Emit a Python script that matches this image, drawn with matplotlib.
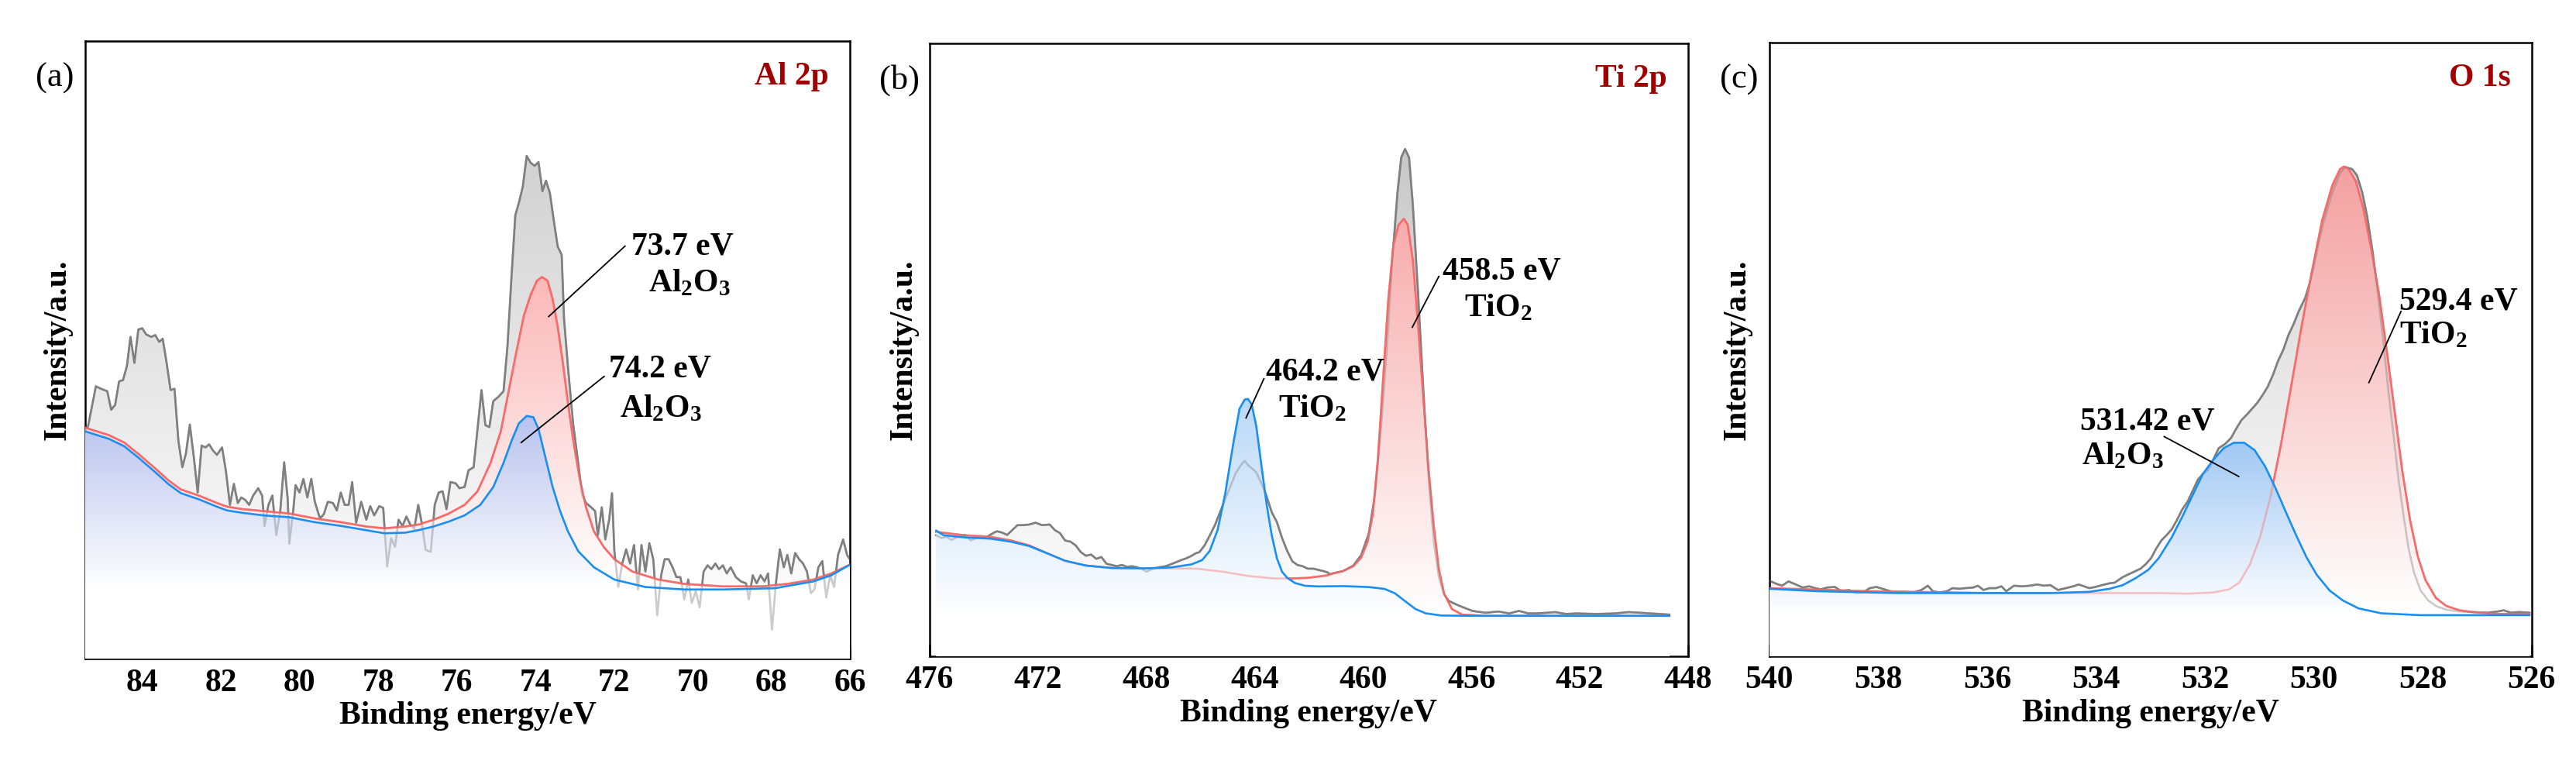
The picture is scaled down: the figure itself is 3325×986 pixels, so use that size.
import numpy as np
import matplotlib
matplotlib.use("Agg")
from matplotlib import pyplot as plt
from matplotlib import colors as mcolors
from matplotlib.ticker import MultipleLocator

plt.rcParams['font.family'] = ['Liberation Serif', 'DejaVu Serif']
plt.rcParams['mathtext.fontset'] = 'custom'
plt.rcParams['mathtext.rm'] = 'Liberation Serif:bold'
plt.rcParams['mathtext.it'] = 'Liberation Serif:bold:italic'
plt.rcParams['mathtext.bf'] = 'Liberation Serif:bold'

# ---------------- (a) Al 2p ----------------
a_raw_ev = [85.45, 85.38, 85.18, 85.05, 84.89, 84.79, 84.69, 84.59, 84.49, 84.39, 84.30, 84.20, 84.10,
            84.00, 83.90, 83.77, 83.67, 83.57, 83.48, 83.38, 83.28, 83.18, 83.08, 82.98, 82.89, 82.79,
            82.69, 82.59, 82.49, 82.39, 82.30, 82.20, 82.10, 81.97, 81.87, 81.77, 81.67, 81.57, 81.48,
            81.38, 81.28, 81.18, 81.05, 80.95, 80.89, 80.79, 80.69, 80.59, 80.49, 80.39, 80.30, 80.26,
            80.16, 80.10, 80.00, 79.90, 79.80, 79.70, 79.61, 79.48, 79.38, 79.28, 79.15, 79.05, 78.95,
            78.85, 78.75, 78.66, 78.56, 78.43, 78.30, 78.20, 78.10, 77.97, 77.87, 77.77, 77.67, 77.57,
            77.48, 77.38, 77.28, 77.18, 77.08, 76.98, 76.89, 76.79, 76.66, 76.56, 76.46, 76.36, 76.26,
            76.16, 76.03, 75.93, 75.80, 75.70, 75.57, 75.47, 75.37, 75.27, 75.17, 75.07, 74.94, 74.81,
            74.71, 74.61, 74.51, 74.42, 74.32, 74.22, 74.12, 74.02, 73.92, 73.82, 73.73, 73.63, 73.53,
            73.43, 73.33, 73.27, 73.17, 73.04, 72.91, 72.81, 72.71, 72.58, 72.48, 72.41, 72.31, 72.22,
            72.12, 72.05, 71.99, 71.89, 71.79, 71.69, 71.59, 71.49, 71.39, 71.30, 71.20, 71.10, 71.00,
            70.90, 70.80, 70.71, 70.61, 70.51, 70.41, 70.31, 70.21, 70.11, 70.02, 69.92, 69.82, 69.72,
            69.62, 69.52, 69.42, 69.33, 69.23, 69.13, 69.03, 68.90, 68.77, 68.64, 68.57, 68.47, 68.37,
            68.27, 68.17, 68.08, 67.98, 67.88, 67.78, 67.68, 67.59, 67.49, 67.39, 67.29, 67.19, 67.09,
            66.99, 66.90, 66.80, 66.70, 66.60, 66.50, 66.40, 66.30, 66.17, 66.07, 66.00]
a_raw_int = [37.0, 37.6, 44.1, 43.7, 43.3, 40.3, 41.1, 44.9, 45.1, 47.4, 52.1, 47.9, 53.3,
             53.5, 52.5, 52.1, 52.4, 51.3, 51.8, 47.9, 43.5, 43.7, 35.2, 31.0, 33.2, 37.9,
             32.7, 26.9, 34.5, 34.2, 34.7, 33.7, 33.0, 34.2, 30.3, 24.9, 28.3, 25.2, 26.1,
             25.7, 24.9, 26.4, 27.6, 26.4, 21.5, 24.9, 26.4, 20.0, 23.9, 31.8, 25.9, 18.6,
             23.9, 28.1, 26.9, 29.1, 26.1, 29.1, 25.4, 22.7, 23.4, 25.4, 25.2, 24.0, 26.9,
             24.9, 24.9, 28.6, 22.0, 25.4, 22.5, 24.7, 23.2, 24.7, 24.4, 14.9, 19.5, 18.1,
             22.5, 21.5, 23.0, 21.7, 21.0, 24.9, 22.0, 17.6, 17.3, 24.9, 26.9, 27.1, 24.2,
             28.6, 28.4, 27.6, 27.8, 30.5, 31.0, 37.2, 43.5, 37.8, 37.5, 41.7, 42.4, 43.3,
             50.5, 61.5, 71.8, 73.8, 76.4, 81.4, 80.3, 79.8, 80.4, 75.7, 77.4, 75.4, 70.9,
             66.7, 65.4, 55.0, 47.2, 38.1, 31.7, 26.5, 25.2, 24.5, 23.9, 20.0, 24.5, 19.3,
             22.6, 26.8, 17.4, 11.6, 15.4, 17.7, 15.4, 18.4, 11.2, 18.4, 14.1, 18.7, 16.1,
             7.0, 13.5, 16.1, 16.1, 14.8, 13.2, 13.2, 9.6, 12.8, 9.0, 10.9, 8.3, 14.1,
             15.1, 14.5, 15.4, 14.5, 15.1, 13.8, 14.8, 13.2, 12.5, 12.2, 9.6, 13.5, 12.2,
             13.5, 12.5, 13.8, 4.7, 12.2, 17.7, 14.8, 16.8, 13.8, 17.1, 16.1, 15.4, 14.1,
             10.6, 11.2, 14.8, 15.8, 9.9, 13.5, 11.6, 16.8, 19.3, 16.8, 16.1]
a_red_ev = [85.45, 84.85, 84.46, 84.07, 83.67, 83.34, 83.02, 82.56, 82.10, 81.84, 81.44, 80.92, 80.26,
            79.61, 78.95, 78.30, 77.84, 77.31, 76.98, 76.59, 76.20, 75.80, 75.47, 75.14, 74.88, 74.68,
            74.48, 74.29, 74.12, 73.96, 73.83, 73.69, 73.56, 73.43, 73.30, 73.17, 73.04, 72.87, 72.71,
            72.51, 72.25, 71.99, 71.53, 70.87, 70.21, 69.23, 68.24, 67.59, 66.93, 66.47, 66.00]
a_red_int = [37.4, 36.2, 35.0, 33.0, 30.8, 28.9, 27.4, 26.4, 25.2, 24.6, 24.2, 23.9, 23.5,
             22.7, 22.1, 21.4, 21.1, 21.4, 21.7, 22.5, 23.5, 24.9, 27.1, 31.7, 36.8, 43.3,
             49.8, 55.6, 58.9, 61.2, 61.8, 61.2, 58.2, 53.7, 47.9, 41.4, 35.5, 29.1, 24.5,
             20.6, 18.0, 16.1, 14.1, 12.8, 12.1, 11.7, 11.7, 12.1, 12.8, 13.8, 15.2]
a_blue_ev = [85.45, 84.85, 84.46, 84.07, 83.67, 83.34, 83.02, 82.56, 82.10, 81.84, 81.44, 80.92, 80.26,
             79.61, 78.95, 78.30, 77.84, 77.31, 76.98, 76.59, 76.20, 75.80, 75.40, 75.07, 74.81, 74.61,
             74.42, 74.22, 74.05, 73.92, 73.76, 73.56, 73.37, 73.17, 72.91, 72.51, 71.99, 71.20, 70.21,
             69.23, 67.91, 66.93, 66.47, 66.00]
a_blue_int = [36.8, 35.6, 34.4, 32.4, 30.2, 28.3, 26.8, 25.8, 24.6, 24.0, 23.6, 23.2, 22.9,
              22.1, 21.5, 20.8, 20.3, 20.4, 20.8, 21.4, 22.2, 23.2, 24.9, 27.8, 31.7, 35.2,
              38.1, 39.3, 39.1, 37.2, 33.0, 27.8, 23.9, 20.6, 17.4, 14.8, 12.8, 11.6, 11.2,
              11.2, 11.4, 12.5, 13.5, 15.2]

# ---------------- (b) Ti 2p ----------------
b_raw_ev = [475.76, 475.57, 475.38, 475.19, 475.00, 474.71, 474.48, 474.24, 473.95, 473.66, 473.52,
            473.33, 473.14, 472.95, 472.76, 472.57, 472.33, 472.09, 471.85, 471.57, 471.38, 471.19,
            471.00, 470.80, 470.61, 470.42, 470.23, 470.04, 469.85, 469.66, 469.47, 469.28, 469.09,
            468.90, 468.71, 468.52, 468.33, 468.14, 468.00, 467.80, 467.56, 467.28, 466.99, 466.71,
            466.52, 466.33, 466.18, 466.04, 465.85, 465.66, 465.47, 465.28, 465.09, 464.89, 464.70,
            464.51, 464.37, 464.23, 464.08, 463.94, 463.75, 463.56, 463.37, 463.18, 462.99, 462.80,
            462.61, 462.42, 462.23, 462.04, 461.84, 461.65, 461.46, 461.32, 461.22, 460.74, 460.36,
            460.07, 459.79, 459.55, 459.31, 459.12, 458.92, 458.73, 458.59, 458.45, 458.30, 458.16,
            457.97, 457.78, 457.59, 457.39, 457.20, 457.01, 456.82, 456.53, 456.25, 455.96, 455.48,
            455.00, 454.60, 454.24, 453.90, 453.57, 452.90, 452.50, 452.13, 451.37, 450.70, 450.20,
            449.74, 448.69]
b_raw_int = [19.75, 19.3, 19.5, 19.0, 19.4, 19.8, 18.9, 19.4, 19.3, 20.1, 20.4,
             20.2, 19.8, 20.6, 21.4, 21.4, 21.5, 21.8, 21.4, 21.5, 20.6, 20.1,
             18.9, 18.7, 18.1, 17.0, 16.4, 16.6, 15.9, 16.2, 15.1, 14.9, 14.7,
             14.9, 14.6, 14.7, 14.5, 14.2, 13.8, 14.2, 14.5, 14.7, 15.2, 15.7,
             16.0, 16.4, 16.8, 17.0, 18.1, 19.7, 21.4, 23.5, 25.6, 27.8, 29.9,
             31.2, 31.9, 31.1, 30.6, 30.0, 28.2, 26.1, 23.5, 21.9, 19.3, 17.2,
             15.5, 14.9, 14.7, 14.3, 14.3, 14.1, 13.9, 13.7, 13.4, 13.9, 14.8,
             16.5, 20.0, 26.5, 38.7, 50.4, 64.6, 75.6, 81.4, 82.8, 81.4, 73.6,
             59.4, 43.9, 29.7, 18.7, 12.9, 10.0, 9.0, 8.4, 7.9, 7.4, 7.1,
             7.3, 7.0, 7.4, 7.0, 7.0, 7.2, 6.9, 7.0, 6.9, 7.0, 7.2,
             7.1, 6.8]
b_red_ev = [475.76, 474.71, 473.76, 473.00, 472.33, 471.66, 471.00, 470.23, 469.28, 468.04, 467.09,
            466.14, 465.18, 464.23, 463.27, 462.61, 462.04, 461.32, 461.13, 460.74, 460.36, 460.07,
            459.83, 459.64, 459.45, 459.26, 459.07, 458.88, 458.69, 458.49, 458.35, 458.16, 457.97,
            457.78, 457.59, 457.39, 457.20, 457.01, 456.72, 456.34, 455.48, 448.69]
b_red_int = [20.3, 19.75, 19.5, 18.9, 18.1, 16.8, 15.5, 14.8, 14.4, 14.35, 14.35,
             14.3, 13.8, 13.1, 12.7, 12.7, 12.8, 13.2, 13.5, 13.9, 14.7, 16.1,
             18.7, 23.2, 32.3, 45.2, 58.1, 67.2, 70.4, 71.4, 70.4, 64.6, 54.2,
             42.6, 31.0, 21.3, 14.2, 10.3, 7.7, 6.8, 6.6, 6.6]
b_blue_ev = [475.76, 475.48, 474.71, 473.76, 473.00, 472.33, 471.66, 471.00, 470.23, 469.28, 468.04,
             467.09, 466.33, 465.94, 465.66, 465.37, 465.09, 464.80, 464.56, 464.37, 464.25, 464.11,
             463.94, 463.75, 463.56, 463.37, 463.18, 462.99, 462.80, 462.51, 462.13, 461.65, 460.74,
             459.79, 459.21, 458.83, 458.45, 458.06, 457.68, 457.11, 455.96, 448.69]
b_blue_int = [20.5, 19.75, 19.4, 19.2, 18.7, 18.0, 16.8, 15.6, 14.8, 14.4, 14.35,
              14.5, 15.0, 15.7, 17.2, 20.6, 26.5, 34.5, 40.4, 41.9, 42.0, 41.1,
              37.5, 31.1, 24.8, 19.75, 16.0, 13.8, 12.8, 11.95, 11.5, 11.4, 11.45,
              11.3, 11.0, 10.3, 9.0, 7.7, 7.0, 6.65, 6.6, 6.6]

# ---------------- (c) O 1s ----------------
c_raw_ev = [540.00, 539.87, 539.77, 539.65, 539.54, 539.39, 539.27, 539.16, 539.06, 538.94, 538.80,
            538.68, 538.54, 538.40, 538.28, 538.16, 538.04, 537.92, 537.78, 537.64, 537.50, 537.35,
            537.21, 537.09, 537.00, 536.88, 536.74, 536.64, 536.52, 536.41, 536.26, 536.17, 536.07,
            535.96, 535.84, 535.74, 535.65, 535.51, 535.36, 535.22, 535.08, 534.96, 534.84, 534.70,
            534.56, 534.42, 534.32, 534.22, 534.13, 534.01, 533.89, 533.75, 533.66, 533.51, 533.42,
            533.32, 533.18, 533.09, 532.99, 532.90, 532.80, 532.70, 532.61, 532.51, 532.42, 532.32,
            532.23, 532.13, 532.04, 531.94, 531.85, 531.75, 531.63, 531.52, 531.42, 531.33, 531.23,
            531.13, 531.04, 530.94, 530.85, 530.75, 530.66, 530.56, 530.47, 530.37, 530.28, 530.16,
            530.06, 529.99, 529.92, 529.83, 529.73, 529.64, 529.52, 529.42, 529.30, 529.21, 529.11,
            529.02, 528.92, 528.83, 528.73, 528.64, 528.54, 528.45, 528.35, 528.26, 528.16, 528.04,
            527.90, 527.76, 527.57, 527.33, 527.09, 526.81, 526.62, 526.52, 526.38, 526.23, 526.04]
c_raw_int = [12.3, 11.8, 11.5, 12.2, 11.8, 11.2, 11.4, 11.1, 10.9, 11.2, 11.3,
             10.6, 10.8, 10.3, 10.4, 11.1, 11.3, 11.0, 10.6, 10.5, 10.5, 10.4,
             10.8, 11.5, 10.6, 10.4, 10.6, 11.1, 11.0, 11.1, 11.2, 11.5, 10.8,
             11.1, 11.1, 11.4, 10.6, 11.5, 11.4, 11.5, 11.7, 11.5, 11.6, 10.8,
             11.1, 11.4, 11.7, 11.4, 11.1, 11.3, 11.6, 11.9, 12.0, 12.9, 13.3,
             13.7, 14.3, 15.0, 16.0, 17.5, 18.9, 19.8, 20.7, 22.3, 23.9, 25.2,
             26.9, 28.8, 29.7, 30.4, 32.0, 33.9, 34.6, 35.6, 37.2, 38.5, 39.4,
             40.4, 41.3, 42.6, 43.9, 45.9, 48.1, 50.0, 52.3, 54.2, 56.2, 58.4,
             61.3, 63.9, 67.1, 70.4, 73.6, 76.1, 78.7, 79.7, 79.4, 78.4, 75.5,
             71.6, 65.8, 59.4, 51.7, 43.9, 36.2, 29.1, 22.7, 17.5, 13.6, 10.7,
             9.1, 8.2, 7.6, 7.3, 7.2, 7.1, 7.3, 7.5, 7.1, 7.2, 7.1]
c_red_ev = [540.00, 538.16, 536.00, 533.50, 532.80, 532.32, 531.85, 531.56, 531.37, 531.18, 530.99,
            530.80, 530.61, 530.42, 530.23, 530.04, 529.85, 529.66, 529.52, 529.45, 529.37, 529.23,
            529.09, 528.95, 528.80, 528.66, 528.52, 528.38, 528.23, 528.09, 527.95, 527.76, 527.57,
            527.33, 527.09, 526.62, 526.04]
c_red_int = [11.1, 10.6, 10.3, 10.3, 10.3, 10.2, 10.4, 10.9, 12.0, 14.9, 19.4,
             25.9, 34.3, 43.9, 53.6, 62.6, 71.0, 76.8, 79.4, 79.8, 79.5, 77.4,
             72.9, 66.5, 58.8, 49.7, 40.1, 30.4, 22.0, 16.2, 12.4, 9.5, 8.2,
             7.5, 7.2, 6.9, 6.9]
c_blue_ev = [540.00, 539.11, 537.69, 536.26, 534.84, 534.13, 533.75, 533.51, 533.28, 533.04, 532.85,
             532.61, 532.42, 532.23, 532.04, 531.85, 531.66, 531.47, 531.28, 531.09, 530.90, 530.71,
             530.52, 530.33, 530.14, 529.95, 529.71, 529.47, 529.18, 528.76, 528.04, 527.09, 526.04]
c_blue_int = [11.0, 10.6, 10.3, 10.3, 10.3, 10.5, 11.0, 11.6, 12.7, 14.1, 16.0,
              19.4, 22.7, 26.2, 29.7, 32.0, 33.9, 34.8, 34.8, 33.6, 31.0, 27.5,
              23.6, 19.8, 16.2, 13.3, 10.7, 9.1, 7.8, 7.0, 6.7, 6.7, 6.7]

gray_line = '#7f7f7f'
red_line = '#f96b6b'
blue_line = '#1b8ff0'
title_red = '#a00000'


def grad_fill(ax, x, y, top_color, z):
    # vertical gradient from top_color at the curve maximum to white at its minimum
    x = np.asarray(x, dtype=float)
    y = np.asarray(y, dtype=float)
    lo, hi = y.min(), y.max()
    rows = np.linspace(0, hi, 400)
    t = np.clip((rows - lo) / (hi - lo), 0, 1)
    c = np.array(mcolors.to_rgb(top_color))
    img = np.ones((len(rows), 1, 4))
    img[:, 0, :3] = 1 - t[:, None] * (1 - c)
    im = ax.imshow(img, extent=[x.min(), x.max(), 0, hi], origin='lower',
                   aspect='auto', zorder=z, interpolation='bilinear')
    poly = ax.fill_between(x, y, 0, facecolor='none', edgecolor='none', zorder=z)
    im.set_clip_path(poly.get_paths()[0], transform=ax.transData)


def panel(ax, raw, red, blue, fills, xlim, major, minor, letter, title, ylpad):
    grad_fill(ax, raw[0], raw[1], fills[0], 1)
    ax.plot(raw[0], raw[1], color=gray_line, lw=1.9, zorder=2)
    grad_fill(ax, red[0], red[1], fills[1], 3)
    ax.plot(red[0], red[1], color=red_line, lw=1.9, zorder=4)
    grad_fill(ax, blue[0], blue[1], fills[2], 5)
    # covered parts of the lines still show faintly through the fills
    ax.plot(raw[0], raw[1], color=gray_line, lw=1.9, alpha=0.4, zorder=5.5)
    ax.plot(red[0], red[1], color=red_line, lw=1.9, alpha=0.4, zorder=5.5)
    ax.plot(blue[0], blue[1], color=blue_line, lw=1.9, zorder=6)

    ax.set_xlim(*xlim)
    ax.set_ylim(0, 100)
    ax.xaxis.set_major_locator(MultipleLocator(major))
    ax.xaxis.set_minor_locator(MultipleLocator(minor))
    ax.set_yticks([])
    ax.tick_params(axis='x', which='both', direction='in', top=False, width=1.8, pad=9,
                   labelsize=30)
    ax.tick_params(axis='x', which='major', length=11)
    ax.tick_params(axis='x', which='minor', length=6)
    for lab in ax.get_xticklabels():
        lab.set_fontweight('bold')
    for sp in ax.spines.values():
        sp.set_linewidth(1.8)
    ax.set_xlabel('Binding energy/eV', fontsize=30, fontweight='bold', labelpad=3)
    ax.set_ylabel('Intensity/a.u.', fontsize=30, fontweight='bold', labelpad=ylpad)
    ax.text(-0.04, 0.94, letter, transform=ax.transAxes, fontsize=32,
            ha='center', va='center')
    ax.text(0.972, 0.942, title, transform=ax.transAxes, fontsize=30, fontweight='bold',
            color=title_red, ha='right', va='center')


def note(ax, lines, leader):
    for (x, y, s) in lines:
        ax.text(x, y, s, fontsize=30, fontweight='bold', ha='left', va='baseline', zorder=8)
    ax.plot(leader[0], leader[1], color='k', lw=1.3, zorder=8)


fig = plt.figure(figsize=(33.25, 9.86), dpi=100)
ax_a = fig.add_axes([0.0331, 0.1379, 0.2968, 0.8083])
ax_b = fig.add_axes([0.3609, 0.1410, 0.2944, 0.8020])
ax_c = fig.add_axes([0.6869, 0.1410, 0.2959, 0.8032])

panel(ax_a, (a_raw_ev, a_raw_int), (a_red_ev, a_red_int), (a_blue_ev, a_blue_int),
      ('#d2d2d2', '#fbb8b8', '#b8c2ee'), (85.45, 66), 2, 1, '(a)', 'Al 2p', 12)
panel(ax_b, (b_raw_ev, b_raw_int), (b_red_ev, b_red_int), (b_blue_ev, b_blue_int),
      ('#c8c8c8', '#f8acac', '#b8d8f8'), (476, 448), 4, 2, '(b)', 'Ti 2p', 10)
panel(ax_c, (c_raw_ev, c_raw_int), (c_red_ev, c_red_int), (c_blue_ev, c_blue_int),
      ('#d2d2d2', '#f4a0a0', '#a0c8f4'), (540, 526), 2, 1, '(c)', 'O 1s', 16)

note(ax_a, [(71.56, 65.4, '73.7 eV'), (71.12, 59.5, 'Al$_2$O$_3$')],
     ([71.72, 73.66], [66.8, 55.4]))
note(ax_a, [(72.12, 45.6, '74.2 eV'), (71.86, 39.1, 'Al$_2$O$_3$')],
     ([72.25, 74.36], [45.7, 35.0]))
note(ax_b, [(463.59, 45.1, '464.2 eV'), (463.14, 39.0, 'TiO$_2$')],
     ([463.66, 464.32], [45.3, 38.9]))
note(ax_b, [(457.06, 61.5, '458.5 eV'), (456.25, 55.5, 'TiO$_2$')],
     ([457.20, 458.18], [62.0, 53.7]))
note(ax_c, [(534.29, 36.9, '531.42 eV'), (534.26, 31.3, 'Al$_2$O$_3$')],
     ([532.75, 531.38], [35.8, 29.3]))
note(ax_c, [(528.43, 56.5, '529.4 eV'), (528.43, 51.0, 'TiO$_2$')],
     ([528.40, 528.99], [56.2, 44.6]))

fig.savefig('out.png', dpi=100)
